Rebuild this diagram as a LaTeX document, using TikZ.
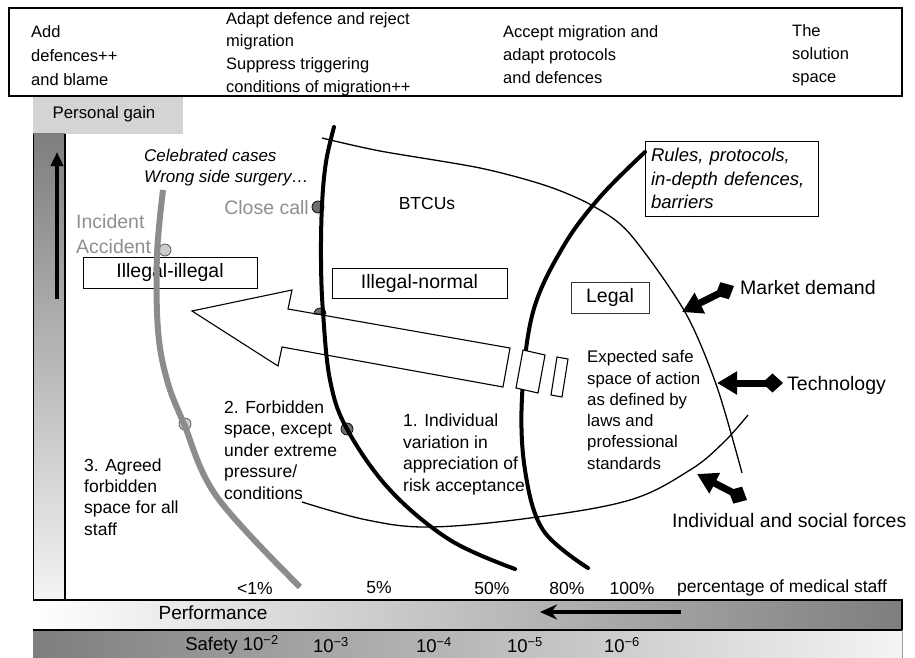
\documentclass[tikz,border=0pt]{standalone}
\usepackage{fontspec}
\setmainfont{Liberation Sans}
\usetikzlibrary{arrows.meta}
\definecolor{curvegray}{HTML}{8C8C8C}
\definecolor{labelgray}{HTML}{8F8F8F}
\definecolor{dotdark}{HTML}{6E6E6E}
\definecolor{dotlight}{HTML}{CCCCCC}
\definecolor{pgbox}{HTML}{D4D4D4}
\definecolor{bardark}{HTML}{7E7E7E}
\definecolor{barlight}{HTML}{F4F4F4}
\begin{document}
\begin{tikzpicture}[x=1pt,y=-1pt,
  hdr/.style={font=\fontsize{16.5}{23}\selectfont, align=left, anchor=west, inner sep=0pt},
  lbl/.style={font=\fontsize{17.5}{21.5}\selectfont, align=left, anchor=west, inner sep=0pt},
  biglbl/.style={font=\fontsize{19.5}{24}\selectfont, inner sep=0pt},
  pct/.style={font=\fontsize{17.5}{21}\selectfont, inner sep=0pt},
  tagbox/.style={draw, line width=0.9pt, font=\fontsize{19.5}{24}\selectfont, inner sep=0pt},
  dotd/.style={fill=dotdark, draw=black, line width=0.7pt},
  dotl/.style={fill=dotlight, draw=black!70, line width=0.7pt},
  thickblack/.style={line width=4pt, line cap=round},
  thinline/.style={line width=1.3pt},
  forcearrow/.style={line width=7pt, {Diamond[length=21pt,width=19pt]}-{Triangle[length=20pt,width=22pt]}}
]
\useasboundingbox (0,0) rectangle (915,658);

% header
\draw[line width=1.6pt] (9,8) rectangle (902,96);
\node[hdr, font=\fontsize{16.5}{24}\selectfont] (h1) at (31,55.5) {Add\\defences++\\and blame};
\node[hdr, font=\fontsize{16.5}{22.7}\selectfont] (h2) at (226,54) {Adapt defence and reject\\migration\\Suppress triggering\\conditions of migration++};
\node[hdr] (h3) at (503,55) {Accept migration and\\adapt protocols\\and defences};
\node[hdr] (h4) at (792,55) {The\\solution\\space};

% personal gain and left bar
\fill[pgbox] (33,96.8) rectangle (183,134);
\node[font=\fontsize{16.8}{20}\selectfont, inner sep=0pt] (pg) at (104,114) {Personal gain};
\shade[top color=bardark, bottom color=barlight] (33,134) rectangle (65,600);
\draw[line width=1pt] (33,134) -- (33,658);
\draw[line width=1.2pt] (65,134) -- (65,600);
\coordinate (ga) at (57,299);
\coordinate (gb) at (57,152);
\draw[line width=3.5pt, -{Triangle[length=14pt,width=12pt]}] (ga) -- (gb);

% bottom bars
\shade[left color=white, right color=bardark] (33,600) rectangle (902,630);
\shade[left color=bardark, right color=barlight] (33,630) rectangle (902,658);
\draw[line width=1.2pt] (33,600) -- (902,600) -- (902,630) -- (33,630);
\draw[line width=0.8pt, black!40] (902,630) -- (902,658);
\coordinate (pa) at (681,612);
\coordinate (pb) at (540,612);
\draw[line width=4pt, -{Stealth[length=17pt,width=15pt]}] (pa) -- (pb);
\node[font=\fontsize{19}{22}\selectfont, inner sep=0pt] (perf) at (213,613) {Performance};
\node[font=\fontsize{18.5}{22}\selectfont, inner sep=0pt] (s2) at (232,645) {Safety 10\textsuperscript{−2}};
\node[font=\fontsize{18.5}{22}\selectfont, inner sep=0pt] (s3) at (331,645) {10\textsuperscript{−3}};
\node[font=\fontsize{18.5}{22}\selectfont, inner sep=0pt] (s4) at (434,645) {10\textsuperscript{−4}};
\node[font=\fontsize{18.5}{22}\selectfont, inner sep=0pt] (s5) at (525,645) {10\textsuperscript{−5}};
\node[font=\fontsize{18.5}{22}\selectfont, inner sep=0pt] (s6) at (622,645) {10\textsuperscript{−6}};

% percentages
\node[pct] (p1) at (255,588) {<1\%};
\node[pct] (p5) at (379,588) {5\%};
\node[pct] (p50) at (492,588) {50\%};
\node[pct] (p80) at (567,588) {80\%};
\node[pct] (p100) at (632,588) {100\%};
\node[pct] (pms) at (782,588) {percentage of medical staff};

% boxes
\node[tagbox, minimum width=174pt, minimum height=31pt] (ii) at (170,272.5) {Illegal-illegal};
\node[tagbox, minimum width=175pt, minimum height=30pt] (in) at (419.5,283) {Illegal-normal};
\node[tagbox, draw=black!80, minimum width=78pt, minimum height=31pt] (lg) at (610,297.5) {Legal};
\node[draw, line width=0.9pt, minimum width=173pt, minimum height=75pt, text width=161pt, inner xsep=6pt, inner ysep=0pt,
      align=left, font=\fontsize{18.5}{23.5}\itshape\selectfont] (rules) at (731.5,178.5)
      {Rules, protocols,\\in-depth defences,\\barriers};

% dots (under curves)
\draw[dotl] (165,250) circle[radius=6];
\draw[dotl] (185,424) circle[radius=6];
\draw[dotd] (318,207) circle[radius=6];
\draw[dotd] (347,429) circle[radius=6];
\filldraw[dotd] (326,314) arc[start angle=0, end angle=-180, radius=6] -- cycle;

% curves
\draw[curvegray, line width=6pt] plot[smooth, tension=0.6] coordinates {(163,190) (157,255) (158,330) (167,380) (184,424) (217,497) (300,587)};
\draw[thickblack] plot[smooth, tension=0.6] coordinates {(334,127) (326,162) (322,205) (321,260) (323,312) (330,380) (347,429) (390,490) (450,540) (515,569)};
\coordinate (rulesc) at (645,152);
\draw[thickblack] plot[smooth, tension=0.6] coordinates {(rulesc) (600,197) (563,247) (533,312) (522,397) (525,470) (543,530) (588,568)};
\draw[thinline] plot[smooth, tension=0.5] coordinates {(322,138) (380,151) (480,168) (547,186) (593,206) (630,234) (685,312) (717,387) (742,473)};
\draw[thinline] plot[smooth, tension=0.6] coordinates {(302,502) (367,520) (430,527) (530,518) (630,500) (690,470) (723,443) (748,415)};

% big hollow arrow
\draw[line width=1.1pt, line join=miter] (192,311) -- (292,290) -- (288,309) -- (510,348) -- (503,387) -- (282,347) -- (278,366) -- cycle;
\filldraw[fill=white, line width=1.1pt] (523,350) -- (545,355) -- (538,393) -- (516,388) -- cycle;
\filldraw[fill=white, line width=1.1pt] (557,357) -- (568,359) -- (562,397) -- (551,395) -- cycle;

% force arrows
\coordinate (md1) at (734,286);
\coordinate (md2) at (682,312);
\draw[forcearrow] (md1) -- (md2);
\coordinate (te1) at (783,383);
\coordinate (te2) at (717,383);
\draw[forcearrow] (te1) -- (te2);
\coordinate (is1) at (747,500);
\coordinate (is2) at (697,474);
\draw[forcearrow] (is1) -- (is2);

% labels
\node[lbl, font=\fontsize{17}{21}\itshape\selectfont] (cel) at (144,167.5) {Celebrated cases\\Wrong side surgery\ldots};
\node[lbl, text=labelgray, font=\fontsize{19.5}{25}\selectfont] (inc) at (76,234.5) {Incident\\Accident};
\node[biglbl, text=labelgray, anchor=east] (cc) at (309,208) {Close call};
\node[font=\fontsize{17.5}{21}\selectfont, inner sep=0pt] (btcu) at (427,203) {BTCUs};
\node[lbl, font=\fontsize{16.8}{21.3}\selectfont] (exp) at (587,410) {Expected safe\\space of action\\as defined by\\laws and\\professional\\standards};
\node[lbl, font=\fontsize{17.5}{21.7}\selectfont] (one) at (403,454.5) {1. Individual\\variation in\\appreciation of\\risk acceptance};
\node[lbl] (two) at (224,450) {2. Forbidden\\space, except\\under extreme\\pressure/\\conditions};
\node[lbl, font=\fontsize{17.5}{21.3}\selectfont] (three) at (84,497) {3. Agreed\\forbidden\\space for all\\staff};
\node[biglbl, anchor=west] (mkt) at (740,288) {Market demand};
\node[biglbl, anchor=west] (tech) at (787,385) {Technology};
\node[biglbl, anchor=west] (isf) at (672,521) {Individual and social forces};
\end{tikzpicture}
\end{document}
